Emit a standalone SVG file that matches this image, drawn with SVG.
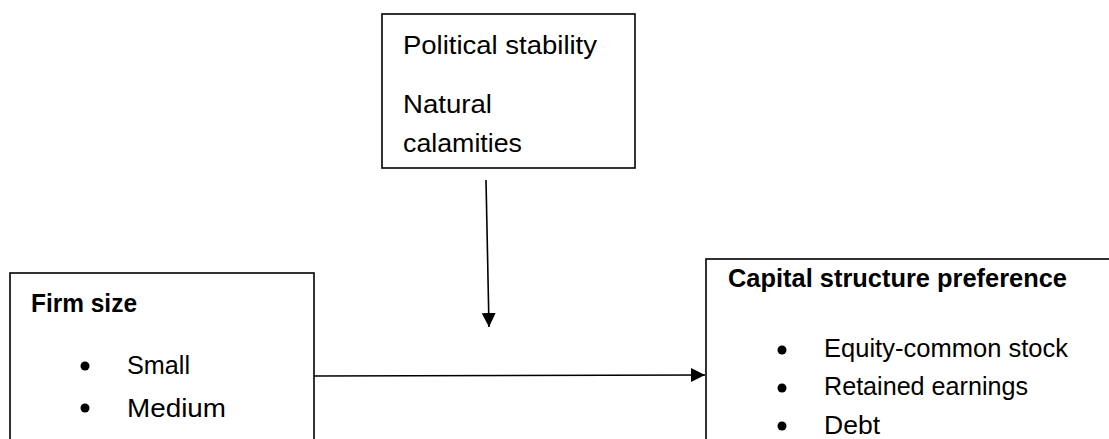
<svg xmlns="http://www.w3.org/2000/svg" width="1109" height="439" viewBox="0 0 1109 439">
  <defs>
    <marker id="arrow" viewBox="0 0 14 14" refX="14" refY="7" markerWidth="14" markerHeight="14" markerUnits="userSpaceOnUse" orient="auto">
      <path d="M0,0 L14,7 L0,14 Z" fill="#000"/>
    </marker>
  </defs>
  <style>
    .box { fill: #fff; stroke: #000; stroke-width: 1.6; }
    .t { font-family: "Liberation Sans", Arial, sans-serif; font-size: 26px; fill: #000; }
    .b { font-weight: bold; }
    .bullet { fill: #000; }
    .conn { stroke: #000; stroke-width: 1.6; fill: none; }
  </style>
  <rect width="1109" height="439" fill="#fff"/>

  <g id="moderator">
    <rect class="box" x="382" y="14" width="253" height="154"/>
    <text class="t" x="403" y="54" textLength="194" lengthAdjust="spacingAndGlyphs">Political stability</text>
    <text class="t" x="403" y="113" textLength="89" lengthAdjust="spacingAndGlyphs">Natural</text>
    <text class="t" x="403" y="152" textLength="119" lengthAdjust="spacingAndGlyphs">calamities</text>
  </g>

  <g id="firm-size">
    <rect class="box" x="10" y="273" width="304" height="200"/>
    <text class="t b" x="31" y="312" textLength="106" lengthAdjust="spacingAndGlyphs">Firm size</text>
    <circle class="bullet" cx="85" cy="366" r="4.5"/>
    <text class="t" x="127" y="374" textLength="63" lengthAdjust="spacingAndGlyphs">Small</text>
    <circle class="bullet" cx="85" cy="408" r="4.5"/>
    <text class="t" x="127" y="417" textLength="99" lengthAdjust="spacingAndGlyphs">Medium</text>
  </g>

  <g id="capital-structure">
    <rect class="box" x="706" y="259" width="420" height="220"/>
    <text class="t b" x="728" y="287" textLength="339" lengthAdjust="spacingAndGlyphs">Capital structure preference</text>
    <circle class="bullet" cx="782" cy="350" r="4.5"/>
    <text class="t" x="824" y="357" textLength="244" lengthAdjust="spacingAndGlyphs">Equity-common stock</text>
    <circle class="bullet" cx="782" cy="388" r="4.5"/>
    <text class="t" x="824" y="395" textLength="204" lengthAdjust="spacingAndGlyphs">Retained earnings</text>
    <circle class="bullet" cx="782" cy="426" r="4.5"/>
    <text class="t" x="824" y="434" textLength="56" lengthAdjust="spacingAndGlyphs">Debt</text>
  </g>

  <g id="connectors">
    <line class="conn" x1="486" y1="180" x2="489" y2="327" marker-end="url(#arrow)"/>
    <line class="conn" x1="314" y1="376" x2="705" y2="375" marker-end="url(#arrow)"/>
  </g>
</svg>
